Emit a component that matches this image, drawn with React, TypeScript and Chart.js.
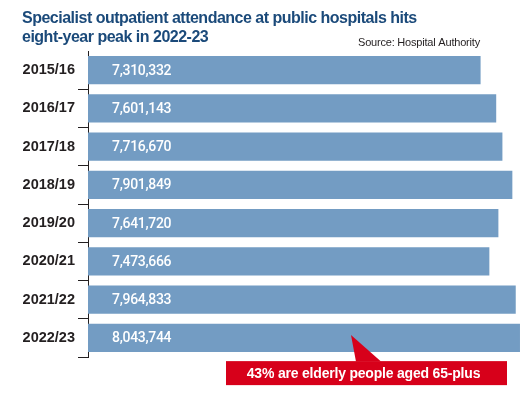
import React, { useEffect, useRef } from "react";
import { Chart, registerables } from "chart.js";
Chart.register(...registerables);

const categories = ["2015/16", "2016/17", "2017/18", "2018/19", "2019/20", "2020/21", "2021/22", "2022/23"];
const attendance = [7310332, 7601143, 7716670, 7901849, 7641720, 7473666, 7964833, 8043744];
const titleLines = ["Specialist outpatient attendance at public hospitals hits", "eight-year peak in 2022-23"];
const sourceText = "Source: Hospital Authority";
const calloutText = "43% are elderly people aged 65-plus";

const fmt = (v: number) => String(v).replace(/\B(?=(\d{3})+(?!\d))/g, ",");

const decorPlugin = {
  id: "decor",
  afterDatasetsDraw(chart: any) {
    const ctx = chart.ctx as CanvasRenderingContext2D;
    const meta = chart.getDatasetMeta(0);
    ctx.save();
    ctx.fillStyle = "#ffffff";
    ctx.font = "500 14px Roboto, 'Liberation Sans', Arial, sans-serif";
    (ctx as any).letterSpacing = "-0.3px";
    ctx.textBaseline = "middle";
    ctx.textAlign = "left";
    meta.data.forEach((bar: any, i: number) => {
      ctx.fillText(fmt(attendance[i]), chart.chartArea.left + 24, bar.y + 1);
    });
    ctx.restore();
  },
  afterDraw(chart: any) {
    const ctx = chart.ctx as CanvasRenderingContext2D;
    ctx.save();
    // Title
    ctx.fillStyle = "#1b4a7a";
    ctx.font = "bold 16px 'Liberation Sans', Arial, sans-serif";
    (ctx as any).letterSpacing = "-0.5px";
    ctx.textAlign = "left";
    ctx.textBaseline = "alphabetic";
    ctx.fillText(titleLines[0], 22, 23);
    ctx.fillText(titleLines[1], 22, 42);
    // Source
    ctx.fillStyle = "#231f20";
    ctx.font = "11px 'Liberation Sans', Arial, sans-serif";
    (ctx as any).letterSpacing = "-0.2px";
    ctx.fillText(sourceText, 358, 46);

    // Callout
    const meta = chart.getDatasetMeta(0);
    const last = meta.data[meta.data.length - 1];
    const boxTop = last.y + last.height / 2 + 9;
    const boxH = 24;
    const boxL = 226;
    const boxR = 507;
    ctx.fillStyle = "#d7001a";
    ctx.fillRect(boxL, boxTop, boxR - boxL, boxH);
    ctx.beginPath();
    ctx.moveTo(351, last.y - 3);
    ctx.lineTo(381, boxTop + 0.5);
    ctx.lineTo(356, boxTop + 0.5);
    ctx.closePath();
    ctx.fill();
    ctx.fillStyle = "#ffffff";
    ctx.font = "bold 14px 'Liberation Sans', Arial, sans-serif";
    (ctx as any).letterSpacing = "-0.2px";
    ctx.textAlign = "center";
    ctx.textBaseline = "middle";
    ctx.fillText(calloutText, (boxL + boxR) / 2 - 3, boxTop + boxH / 2 + 1);
    ctx.restore();
  },
};

export default function App() {
  const ref = useRef<HTMLCanvasElement>(null);
  useEffect(() => {
    if (!ref.current) return;
    const chart = new Chart(ref.current, {
      type: "bar",
      data: {
        labels: categories,
        datasets: [
          {
            data: attendance,
            backgroundColor: "#739cc3",
            barPercentage: 0.745,
            categoryPercentage: 1,
          },
        ],
      },
      options: {
        indexAxis: "y",
        animation: false,
        responsive: false,
        devicePixelRatio: 1,
        layout: { padding: { top: 51, bottom: 36, left: 0, right: 7 } },
        plugins: { legend: { display: false }, tooltip: { enabled: false }, title: { display: false } },
        scales: {
          x: { display: false, min: 0, max: 8100000 },
          y: {
            afterFit: (scale: any) => {
              scale.width = 88;
            },
            grid: {
              drawOnChartArea: false,
              drawTicks: true,
              tickLength: 10,
              offset: true,
              color: (c: any) => (c.index === 0 ? "rgba(0,0,0,0)" : "#231f20"),
            },
            border: { display: true, color: "#231f20", width: 1 },
            ticks: {
              color: "#231f20",
              padding: 3,
              font: { family: "'Liberation Sans', Arial, sans-serif", size: 14.5, weight: "bold" },
            },
          },
        },
      },
      plugins: [decorPlugin],
    } as any);
    return () => chart.destroy();
  }, []);
  return (
    <div style={{ position: "absolute", left: 0, top: 0, width: 530, height: 393, background: "#fff" }}>
      <canvas ref={ref} width={530} height={393} />
    </div>
  );
}
